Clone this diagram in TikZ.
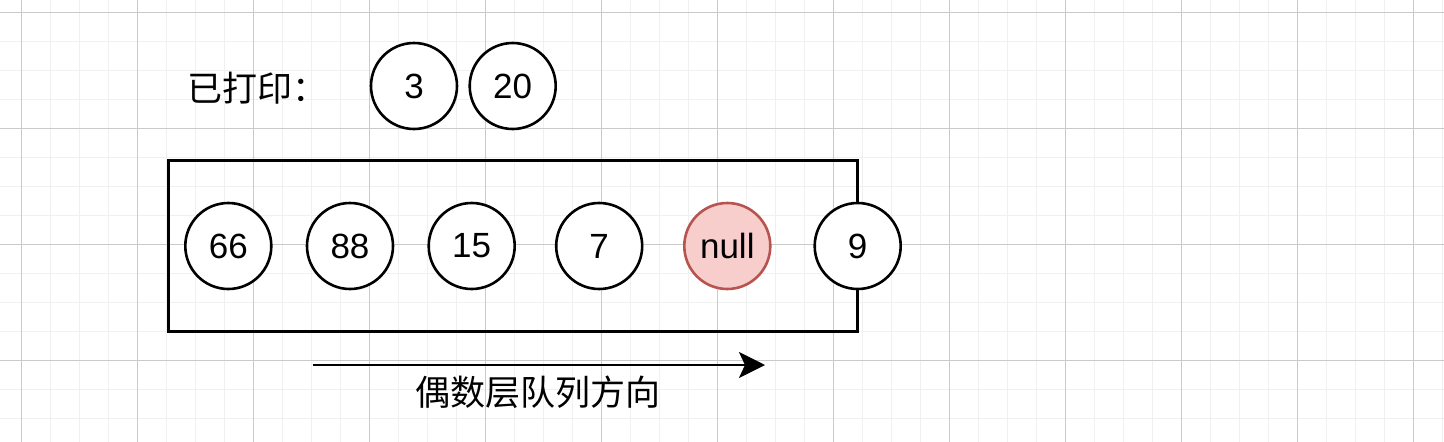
\documentclass[tikz,border=0pt]{standalone}
\usepackage{fontspec}
\setmainfont{Liberation Sans}
\newfontfamily\cjk{Noto Sans CJK SC}
\usetikzlibrary{arrows.meta,positioning}
\definecolor{nullfill}{HTML}{F8CECC}
\definecolor{nullline}{HTML}{B85450}
\definecolor{minorgrid}{HTML}{F0F0F0}
\definecolor{majorgrid}{HTML}{CACACA}

\begin{document}
\begin{tikzpicture}[x=1pt,y=-1pt,line width=2.6pt,
    num node/.style={circle,draw,fill=white,inner sep=0pt,minimum size=86pt,font=\fontsize{35}{40}\selectfont},
    null node/.style={num node,fill=nullfill,draw=nullline},
    label text/.style={font=\cjk\fontsize{35}{40}\selectfont,inner sep=0pt}]

  \useasboundingbox (0,0) rectangle (1444,442);
  % grid in the background
  \begin{scope}[line width=1.6pt,minorgrid]
    \foreach \gx in {-7.7,21.3,...,1444} \draw (\gx,0) -- (\gx,442);
    \foreach \gy in {12.3,41.3,...,442} \draw (0,\gy) -- (1444,\gy);
  \end{scope}
  \begin{scope}[line width=1pt,majorgrid]
    \foreach \gx in {21.3,137.3,...,1444} \draw (\gx,0) -- (\gx,442);
    \foreach \gy in {12.3,128.3,...,442} \draw (0,\gy) -- (1444,\gy);
  \end{scope}

  % printed so far
  \node[label text,anchor=west] (done) at (186,88) {已打印：};
  \node[num node] (p3) at (414,86) {3};
  \node[num node] (p20) at (512.7,86) {20};

  % the queue
  \node[draw,inner sep=0pt,minimum width=689pt,minimum height=171pt] (queue) at (513,246) {};
  \node[num node] (n66) at (228.3,246) {66};
  \node[num node] (n88) at (350,246) {88};
  \node[num node] (n15) at (471.7,246) {15};
  \node[num node] (n7) at (599.2,246) {7};
  \node[null node] (nnull) at (727.3,246) {null};
  \node[num node] (n9) at (857.7,246) {9};

  % direction
  \coordinate (qs) at (313,365);
  \coordinate (qe) at (765,365);
  \draw[-{Stealth[length=26pt,width=26pt,inset=6pt]}] (qs) -- (qe);
  \node[label text] (dir) at (538.3,392) {偶数层队列方向};

\end{tikzpicture}
\end{document}
